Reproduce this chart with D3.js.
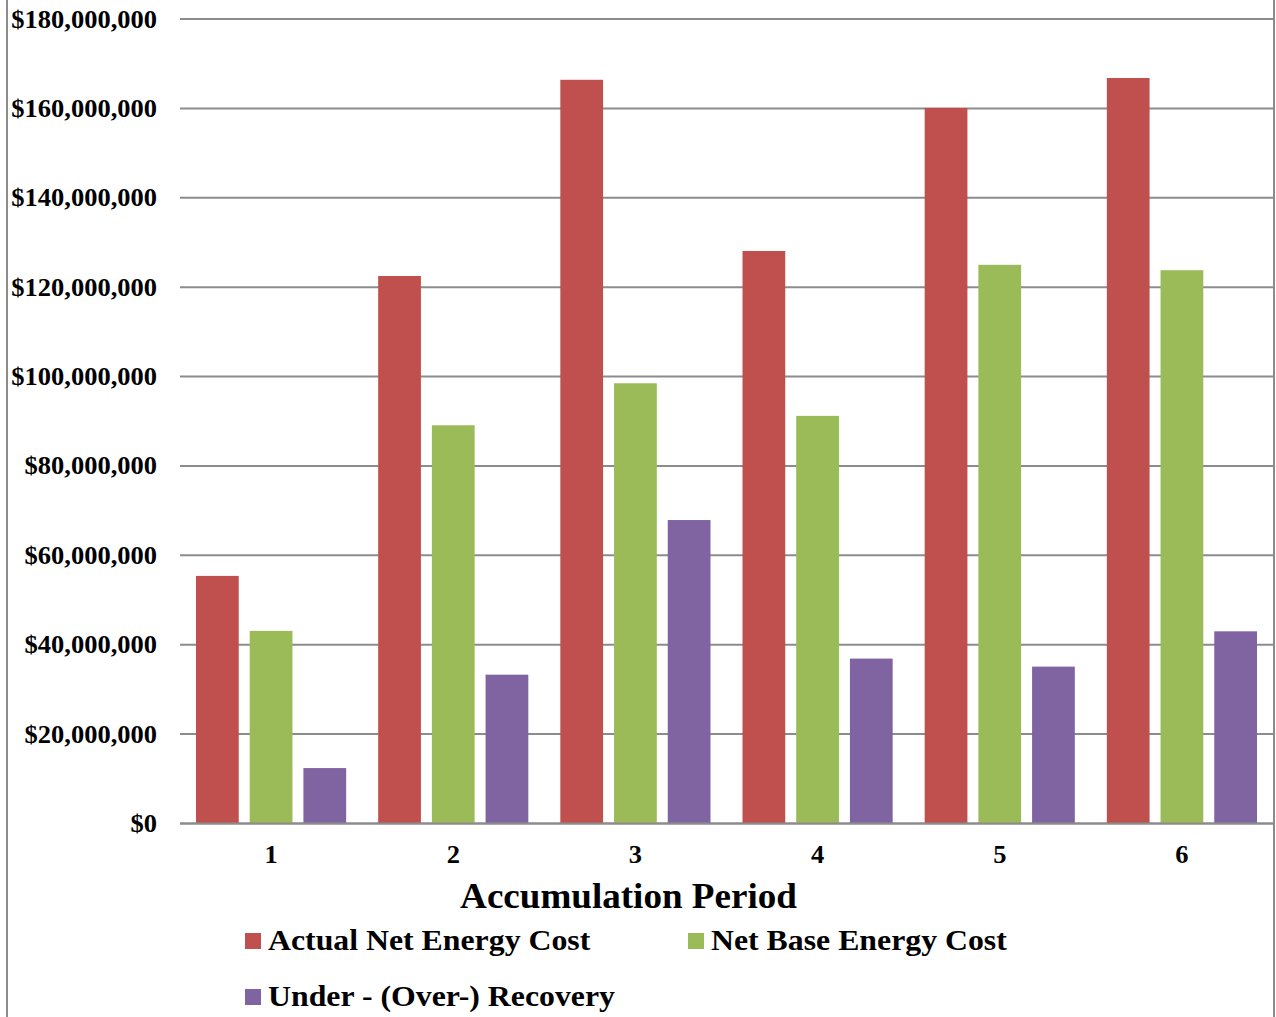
<!DOCTYPE html>
<html>
<head>
<meta charset="utf-8">
<script src="https://cdn.jsdelivr.net/npm/d3@7/dist/d3.min.js"></script>
<style>
html,body{margin:0;padding:0;background:#fff;}
svg{display:block;}
text{font-family:"Liberation Serif","Times New Roman",serif;font-weight:bold;fill:#000;}
</style>
</head>
<body>
<svg id="chart" width="1276" height="1017"></svg>
<script>
const categories = ["1","2","3","4","5","6"];
const seriesNames = ["Actual Net Energy Cost","Net Base Energy Cost","Under - (Over-) Recovery"];
const seriesColors = ["#C0504D","#9BBB59","#8064A2"];
const actualNet = [55400000,122500000,166400000,128100000,160100000,166800000];
const netBase   = [43100000,89100000,98500000,91200000,125000000,123800000];
const underOver = [12400000,33300000,67900000,36900000,35100000,43000000];
const yTicks = [0,20000000,40000000,60000000,80000000,100000000,120000000,140000000,160000000,180000000];
const xTitle = "Accumulation Period";

const seriesValues = [actualNet, netBase, underOver];
const svg = d3.select("#chart");
const SX = 1.06;

// frame lines
svg.append("line").attr("x1",7).attr("x2",7).attr("y1",0).attr("y2",1017).attr("stroke","#8c8c8c").attr("stroke-width",2);
svg.append("line").attr("x1",1274).attr("x2",1274).attr("y1",0).attr("y2",1017).attr("stroke","#8c8c8c").attr("stroke-width",2);

const x0 = d3.scaleBand().domain(categories).range([180,1273]).padding(0);
const x1 = d3.scaleBand().domain(d3.range(3)).range([16, x0.bandwidth()-16]).paddingInner(0.204).paddingOuter(0);
const y = d3.scaleLinear().domain([0,180000000]).range([823.5,19]);

// gridlines
svg.append("g").selectAll("line").data(yTicks).join("line")
  .attr("x1",180).attr("x2",1273)
  .attr("y1",d=>y(d)).attr("y2",d=>y(d))
  .attr("stroke","#8c8c8c").attr("stroke-width",2);

// y tick labels
const fmt = d3.format(",");
svg.append("g").selectAll("text").data(yTicks).join("text")
  .attr("transform",d=>`translate(157,${y(d)+8.5}) scale(${SX},1)`)
  .attr("text-anchor","end")
  .style("font-size","25px")
  .text(d=>"$"+fmt(d));

// bars
const groups = svg.append("g").selectAll("g").data(categories).join("g")
  .attr("transform",c=>`translate(${x0(c)},0)`);
groups.selectAll("rect").data((c,i)=>seriesValues.map((s,k)=>({k,v:s[i]}))).join("rect")
  .attr("x",d=>x1(d.k))
  .attr("width",x1.bandwidth())
  .attr("y",d=>y(d.v))
  .attr("height",d=>y(0)-y(d.v))
  .attr("fill",d=>seriesColors[d.k]);

// redraw baseline on top
svg.append("line").attr("x1",180).attr("x2",1273).attr("y1",y(0)).attr("y2",y(0)).attr("stroke","#8c8c8c").attr("stroke-width",2);

// category labels
svg.append("g").selectAll("text").data(categories).join("text")
  .attr("transform",c=>`translate(${x0(c)+x0.bandwidth()/2},863) scale(${SX},1)`)
  .attr("text-anchor","middle")
  .style("font-size","25px")
  .text(c=>c);

// axis title
svg.append("text")
  .attr("transform",`translate(628.5,908) scale(${SX},1)`)
  .attr("text-anchor","middle")
  .style("font-size","35px")
  .text(xTitle);

// legend
const legendPos = [[245,950],[688,950],[245,1006]];
const lg = svg.append("g").selectAll("g").data(seriesNames).join("g")
  .attr("transform",(d,i)=>`translate(${legendPos[i][0]},${legendPos[i][1]})`);
lg.append("rect").attr("x",0).attr("y",-17).attr("width",16).attr("height",16).attr("fill",(d,i)=>seriesColors[i]);
lg.append("text").attr("transform",`translate(23,0) scale(${SX},1)`).style("font-size","30px").text(d=>d);
</script>
</body>
</html>
